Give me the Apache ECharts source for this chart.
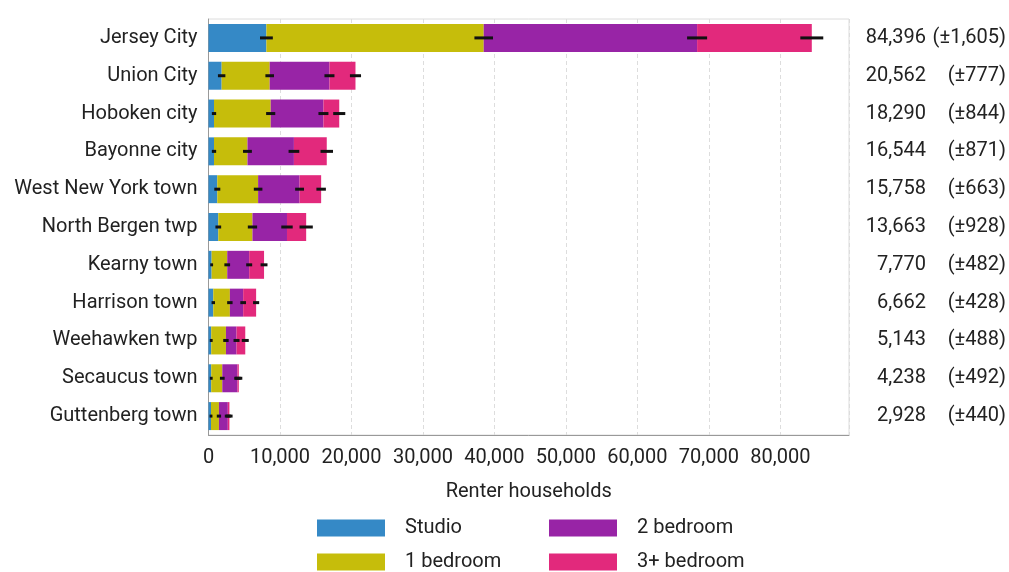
<!DOCTYPE html>
<html>
<head>
<meta charset="utf-8">
<script src="https://cdn.jsdelivr.net/npm/echarts/dist/echarts.min.js"></script>
<style>
  html, body { margin: 0; padding: 0; background: #fff; }
  #chart { width: 1009px; height: 572px; }
</style>
</head>
<body>
<div id="chart"></div>
<script>
// Renter households by unit size, Hudson County places
const places = ['Jersey City', 'Union City', 'Hoboken city', 'Bayonne city', 'West New York town',
  'North Bergen twp', 'Kearny town', 'Harrison town', 'Weehawken twp', 'Secaucus town', 'Guttenberg town'];

const studio    = [8100, 1840, 770, 770, 1230, 1370, 440, 670, 380, 380, 350];
const oneBed    = [30400, 6720, 7930, 4680, 5710, 4780, 2180, 2320, 2060, 1550, 1110];
const twoBed    = [29850, 8360, 7380, 6500, 5800, 4830, 3070, 1860, 1480, 2120, 1240];
const threeBed  = [16046, 3642, 2210, 4594, 3018, 2683, 2080, 1812, 1223, 188, 228];

const totals    = [84396, 20562, 18290, 16544, 15758, 13663, 7770, 6662, 5143, 4238, 2928];
const totalMoe  = [1605, 777, 844, 871, 663, 928, 482, 428, 488, 492, 440];

// margins of error at each running sum (studio, +1 bedroom, +2 bedroom)
const moeStudio = [900, 520, 300, 300, 420, 400, 200, 240, 200, 200, 200];
const moeOne    = [1300, 600, 640, 620, 600, 650, 400, 380, 380, 330, 300];
const moeTwo    = [1400, 700, 700, 750, 620, 800, 420, 400, 420, 450, 420];

const seriesNames = ['Studio', '1 bedroom', '2 bedroom', '3+ bedroom'];
const colors = ['#3589c6', '#c6bd0b', '#9824a6', '#e2297c'];

const xTicks = { min: 0, max: 89600, interval: 10000 };

const fmt = n => n.toLocaleString('en-US');

// error bar positions: running sums of the stacked segments
const errData = [];
places.forEach((p, i) => {
  const c1 = studio[i];
  const c2 = c1 + oneBed[i];
  const c3 = c2 + twoBed[i];
  errData.push([c1, i, moeStudio[i]]);
  errData.push([c2, i, moeOne[i]]);
  errData.push([c3, i, moeTwo[i]]);
  errData.push([totals[i], i, totalMoe[i]]);
});

const font = 'Roboto, "Noto Sans", sans-serif';
const txt = '#222';
const fs = 20;

// one legend block per entry, laid out as a 2 x 2 grid
const legendPos = [[317, 518], [317, 552], [549, 518], [549, 552]];
const legends = seriesNames.map((name, k) => ({
  data: [name], left: legendPos[k][0], top: legendPos[k][1], padding: 0,
  itemWidth: 68, itemHeight: 17, icon: 'rect', selectedMode: false,
  textStyle: { fontSize: fs, color: txt, fontFamily: font, padding: [0, 0, 0, 15] }
}));

const chart = echarts.init(document.getElementById('chart'));
const segs = [studio, oneBed, twoBed, threeBed];

chart.setOption({
  animation: false,
  textStyle: { fontFamily: font },
  grid: {
    left: 208.5, right: 157, top: 19, bottom: 137,
    show: true, borderColor: '#dcdcdc', borderWidth: 1
  },
  legend: legends,
  xAxis: {
    type: 'value', min: xTicks.min, max: xTicks.max, interval: xTicks.interval,
    name: 'Renter households', nameLocation: 'middle', nameGap: 47,
    nameTextStyle: { fontSize: fs, color: txt, fontFamily: font },
    axisLine: { show: true, lineStyle: { color: '#999' } },
    axisTick: { show: false },
    axisLabel: { fontSize: fs, color: txt, margin: 13, showMaxLabel: false, fontFamily: font },
    splitLine: { show: true, lineStyle: { color: '#dddddd', type: [4, 3] } }
  },
  yAxis: [
    {
      type: 'category', data: places, inverse: true,
      axisLine: { show: true, lineStyle: { color: '#999' } },
      axisTick: { show: false },
      axisLabel: { fontSize: fs, color: txt, margin: 11, fontFamily: font }
    },
    {
      type: 'category', data: places, inverse: true, position: 'right',
      axisLine: { show: false }, axisTick: { show: false },
      axisLabel: {
        margin: 17, align: 'left', fontFamily: font,
        formatter: (v, i) => '{n|' + fmt(totals[i]) + '}{m|(±' + fmt(totalMoe[i]) + ')}',
        rich: {
          n: { width: 60, align: 'right', fontSize: fs, color: txt, fontFamily: font },
          m: { width: 80, align: 'right', fontSize: fs, color: txt, fontFamily: font }
        }
      }
    }
  ],
  series: seriesNames.map((name, k) => ({
    name, type: 'bar', stack: 'total', data: segs[k],
    barCategoryGap: '26%',
    itemStyle: { color: colors[k] }
  })).concat([{
    type: 'custom', name: 'moe', z: 10,
    encode: { x: 0, y: 1 },
    data: errData,
    renderItem: (params, api) => {
      const c = api.value(0), y = api.value(1), m = api.value(2);
      const a = api.coord([c - m, y]);
      const b = api.coord([c + m, y]);
      return {
        type: 'line',
        shape: { x1: a[0], y1: a[1], x2: b[0], y2: b[1] },
        style: { stroke: '#111', lineWidth: 3 }
      };
    }
  }])
});
</script>
</body>
</html>
